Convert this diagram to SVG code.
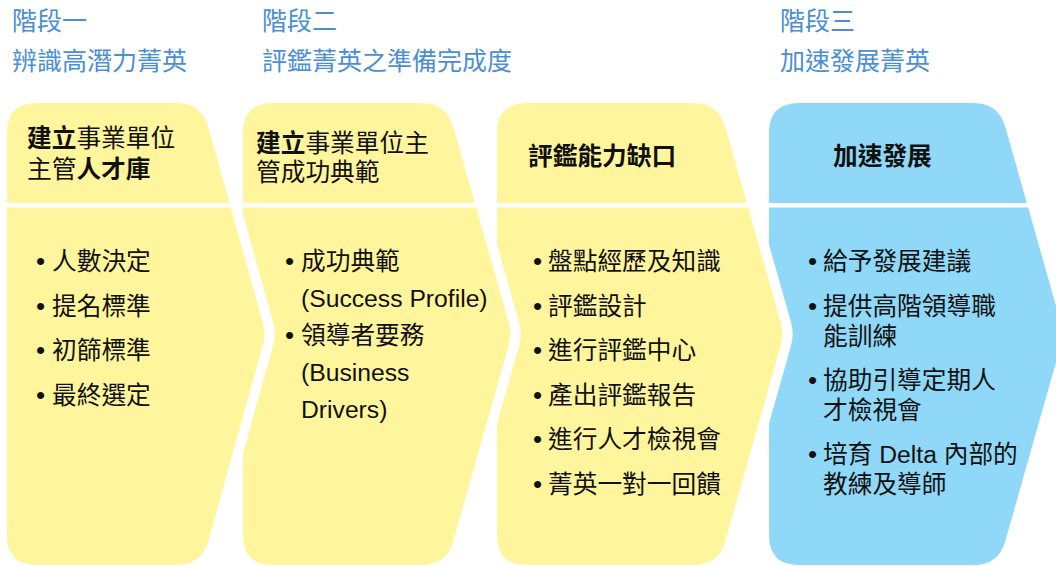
<svg xmlns="http://www.w3.org/2000/svg" width="1056" height="566" viewBox="0 0 1056 566">
<style>
text{font-family:"Liberation Sans","Noto Sans CJK TC",sans-serif;font-size:24.7px;fill:#111}
.phase{fill:#4A8FD4;font-size:25px}
.b{font-weight:700}
.dot{font-size:26px}
.chev{stroke:#fff;stroke-width:20;stroke-linejoin:round;paint-order:stroke}
.y{fill:#FFF59D}
.bl{fill:#8FD8F7}
.div{fill:#fff}
</style>
<rect width="1056" height="566" fill="#fff"/>
<g id="phases">
<text class="phase" x="12" y="30">階段一</text>
<text class="phase" x="12" y="70">辨識高潛力菁英</text>
<text class="phase" x="262" y="30">階段二</text>
<text class="phase" x="262" y="70">評鑑菁英之準備完成度</text>
<text class="phase" x="780" y="30">階段三</text>
<text class="phase" x="780" y="70">加速發展菁英</text>
</g>
<g id="stage4">
<path class="chev bl" d="M 769 133 Q 769 103 799 103 L 973.5 103 Q 998.5 103 1005.35 127.05 L 1061.26 324.38 Q 1064 334 1061.26 343.62 L 1005.35 540.95 Q 998.5 565 973.5 565 L 799 565 Q 769 565 769 535 Z"/>
<rect class="div" x="760" y="203" width="296" height="4.5"/>
<text class="b" x="833" y="165">加速發展</text>
<text class="dot" x="808" y="270">•</text><text x="823" y="270">給予發展建議</text>
<text class="dot" x="808" y="314.6">•</text><text x="823" y="314.6">提供高階領導職</text>
<text x="823" y="344.6">能訓練</text>
<text class="dot" x="808" y="389">•</text><text x="823" y="389">協助引導定期人</text>
<text x="823" y="419">才檢視會</text>
<text class="dot" x="808" y="463">•</text><text x="823" y="463">培育 Delta 內部的</text>
<text x="823" y="493">教練及導師</text>
</g>
<g id="stage3">
<path class="chev y" d="M 497 133 Q 497 103 527 103 L 693.5 103 Q 718.5 103 725.35 127.05 L 781.26 324.38 Q 784 334 781.26 343.62 L 725.35 540.95 Q 718.5 565 693.5 565 L 527 565 Q 497 565 497 535 Z"/>
<rect class="div" x="490" y="203" width="270" height="4.5"/>
<text class="b" x="528" y="165">評鑑能力缺口</text>
<text class="dot" x="533" y="270">•</text><text x="548" y="270">盤點經歷及知識</text>
<text class="dot" x="533" y="314.6">•</text><text x="548" y="314.6">評鑑設計</text>
<text class="dot" x="533" y="359.2">•</text><text x="548" y="359.2">進行評鑑中心</text>
<text class="dot" x="533" y="403.8">•</text><text x="548" y="403.8">產出評鑑報告</text>
<text class="dot" x="533" y="448.4">•</text><text x="548" y="448.4">進行人才檢視會</text>
<text class="dot" x="533" y="493">•</text><text x="548" y="493">菁英一對一回饋</text>
</g>
<g id="stage2">
<path class="chev y" d="M 243 133 Q 243 103 273 103 L 421.5 103 Q 446.5 103 453.35 127.05 L 509.26 324.38 Q 512 334 509.26 343.62 L 453.35 540.95 Q 446.5 565 421.5 565 L 273 565 Q 243 565 243 535 Z"/>
<rect class="div" x="236" y="203" width="254" height="4.5"/>
<text x="256" y="152"><tspan class="b">建立</tspan>事業單位主</text>
<text x="256" y="181">管成功典範</text>
<text class="dot" x="285" y="270">•</text><text x="301" y="270">成功典範</text>
<text x="301" y="307">(Success Profile)</text>
<text class="dot" x="285" y="344">•</text><text x="301" y="344">領導者要務</text>
<text x="301" y="381">(Business</text>
<text x="301" y="418">Drivers)</text>
</g>
<g id="stage1">
<path class="chev y" d="M 7 133 Q 7 103 37 103 L 176.5 103 Q 201.5 103 208.35 127.05 L 263.26 324.38 Q 266 334 263.26 343.62 L 208.35 540.95 Q 201.5 565 176.5 565 L 37 565 Q 7 565 7 535 Z"/>
<rect class="div" x="0" y="203" width="236" height="4.5"/>
<text x="27" y="147"><tspan class="b">建立</tspan>事業單位</text>
<text x="27" y="178">主管<tspan class="b">人才庫</tspan></text>
<text class="dot" x="36" y="270">•</text><text x="52" y="270">人數決定</text>
<text class="dot" x="36" y="314.6">•</text><text x="52" y="314.6">提名標準</text>
<text class="dot" x="36" y="359.2">•</text><text x="52" y="359.2">初篩標準</text>
<text class="dot" x="36" y="403.8">•</text><text x="52" y="403.8">最終選定</text>
</g>
</svg>
